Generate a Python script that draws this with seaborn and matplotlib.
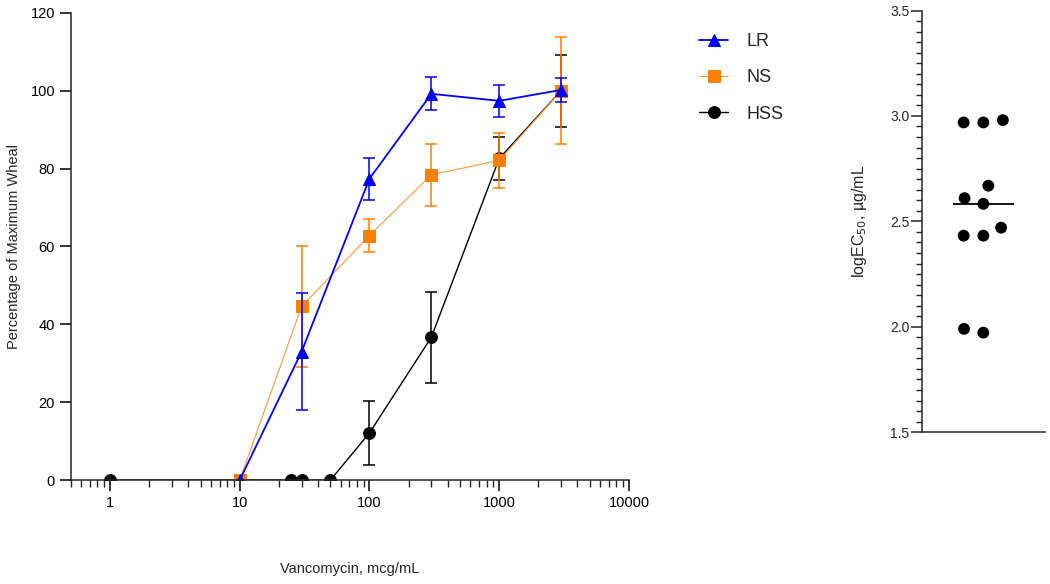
import numpy as np
import pandas as pd
import matplotlib
matplotlib.use("Agg")
import matplotlib.pyplot as plt
from matplotlib.ticker import LogLocator, NullFormatter, MultipleLocator, FormatStrFormatter
import seaborn as sns

# dose-response data (mean, sem)
lr_conc = [10, 30, 100, 300, 1000, 3000]
lr_mean = [0, 33.0, 77.4, 99.2, 97.4, 100.2]
lr_sem = [0, 15.0, 5.4, 4.2, 4.1, 3.1]

ns_conc = [10, 30, 100, 300, 1000, 3000]
ns_mean = [0, 44.6, 62.8, 78.4, 82.1, 100.0]
ns_sem = [0, 15.6, 4.3, 8.0, 7.1, 13.8]

hss_conc = [1, 25, 30, 50, 100, 300, 1000, 3000]
hss_mean = [0, 0, 0, 0, 12.1, 36.7, 82.6, 100.0]
hss_sem = [0, 0, 0, 0, 8.3, 11.7, 5.5, 9.3]

# logEC50 per subject
log_ec50 = [2.969, 2.969, 2.980, 2.669, 2.610, 2.583, 2.470, 2.432, 2.432, 1.972, 1.990]

sns.set_style("ticks")
plt.rcParams["font.family"] = ["Liberation Sans", "DejaVu Sans"]
plt.rcParams["axes.linewidth"] = 1.1

fig = plt.figure(figsize=(10.5, 5.84), dpi=100)
ax = fig.add_axes([0.0676, 0.178, 0.5314, 0.800])
ax2 = fig.add_axes([0.878, 0.260, 0.117, 0.722])

series = [
    ("HSS", hss_conc, hss_mean, hss_sem, "black", "black", "o", 8.5, 1.0),
    ("NS", ns_conc, ns_mean, ns_sem, "#ff9a3c", "#ff7f00", "s", 8.0, 0.8),
    ("LR", lr_conc, lr_mean, lr_sem, "#0000ff", "#0000ff", "^", 9.0, 1.3),
]

for name, xs, ys, es, lc, mc, mk, ms, lw in series:
    nz = [i for i, e in enumerate(es) if e > 0]
    ax.errorbar([xs[i] for i in nz], [ys[i] for i in nz], yerr=[es[i] for i in nz],
                fmt="none", ecolor=mc, elinewidth=1.1, capsize=4.5, capthick=1.1)
    sns.lineplot(x=xs, y=ys, ax=ax, color=lc, linewidth=lw, marker=mk,
                 markersize=ms, markerfacecolor=mc, markeredgecolor=mc,
                 label=name)

ax.set_xscale("log")
ax.set_xlim(0.5, 10000)
ax.set_ylim(0, 120)
ax.set_yticks([0, 20, 40, 60, 80, 100, 120])
ax.xaxis.set_minor_locator(LogLocator(base=10, subs=np.arange(2, 10), numticks=20))
ax.xaxis.set_minor_formatter(NullFormatter())
ax.set_xticks([1, 10, 100, 1000, 10000])
ax.set_xticklabels(["1", "10", "100", "1000", "10000"])
ax.tick_params(axis="both", which="major", length=8, width=1.1, labelsize=10.5, colors="black")
ax.tick_params(axis="x", which="minor", length=5, width=1.0)
sns.despine(ax=ax)

ax.set_ylabel("Percentage of Maximum Wheal", fontsize=10.5)
ax.yaxis.set_label_coords(-0.09, 0.5)
ax.set_xlabel("Vancomycin, mcg/mL", fontsize=10.5)
ax.xaxis.set_label_coords(0.5, -0.175)

handles, labels = ax.get_legend_handles_labels()
order = [labels.index(l) for l in ["LR", "NS", "HSS"]]
ax.legend([handles[i] for i in order], [labels[i] for i in order],
          loc="upper left", bbox_to_anchor=(0.666, 0.943), bbox_transform=fig.transFigure,
          frameon=False, fontsize=13, handlelength=1.6, handletextpad=1.0,
          labelspacing=1.06, borderpad=0, borderaxespad=0)

# right panel: individual logEC50 values with median
ec_df = pd.DataFrame({"grp": ["all"] * len(log_ec50), "logEC50": log_ec50})
sns.swarmplot(data=ec_df, x="grp", y="logEC50", ax=ax2, color="black", size=8.5,
              linewidth=5, edgecolor="none")
med = np.median(log_ec50)
ax2.hlines(med, -0.25, 0.25, color="black", linewidth=1.3)
ax2.set_xlim(-0.5, 0.5)
ax2.set_ylim(1.5, 3.5)
ax2.yaxis.set_major_locator(MultipleLocator(0.5))
ax2.yaxis.set_minor_locator(MultipleLocator(0.05))
ax2.yaxis.set_major_formatter(FormatStrFormatter("%.1f"))
ax2.tick_params(axis="y", which="major", length=8, width=1.1, labelsize=10, pad=1)
ax2.tick_params(axis="y", which="minor", length=4, width=1.0)
ax2.set_xticks([])
ax2.set_xlabel("")
ax2.set_ylabel("logEC$_{50}$, µg/mL", fontsize=11.5)
ax2.yaxis.set_label_coords(-0.43, 0.5)
sns.despine(ax=ax2)

fig.savefig("out.png", dpi=100)
